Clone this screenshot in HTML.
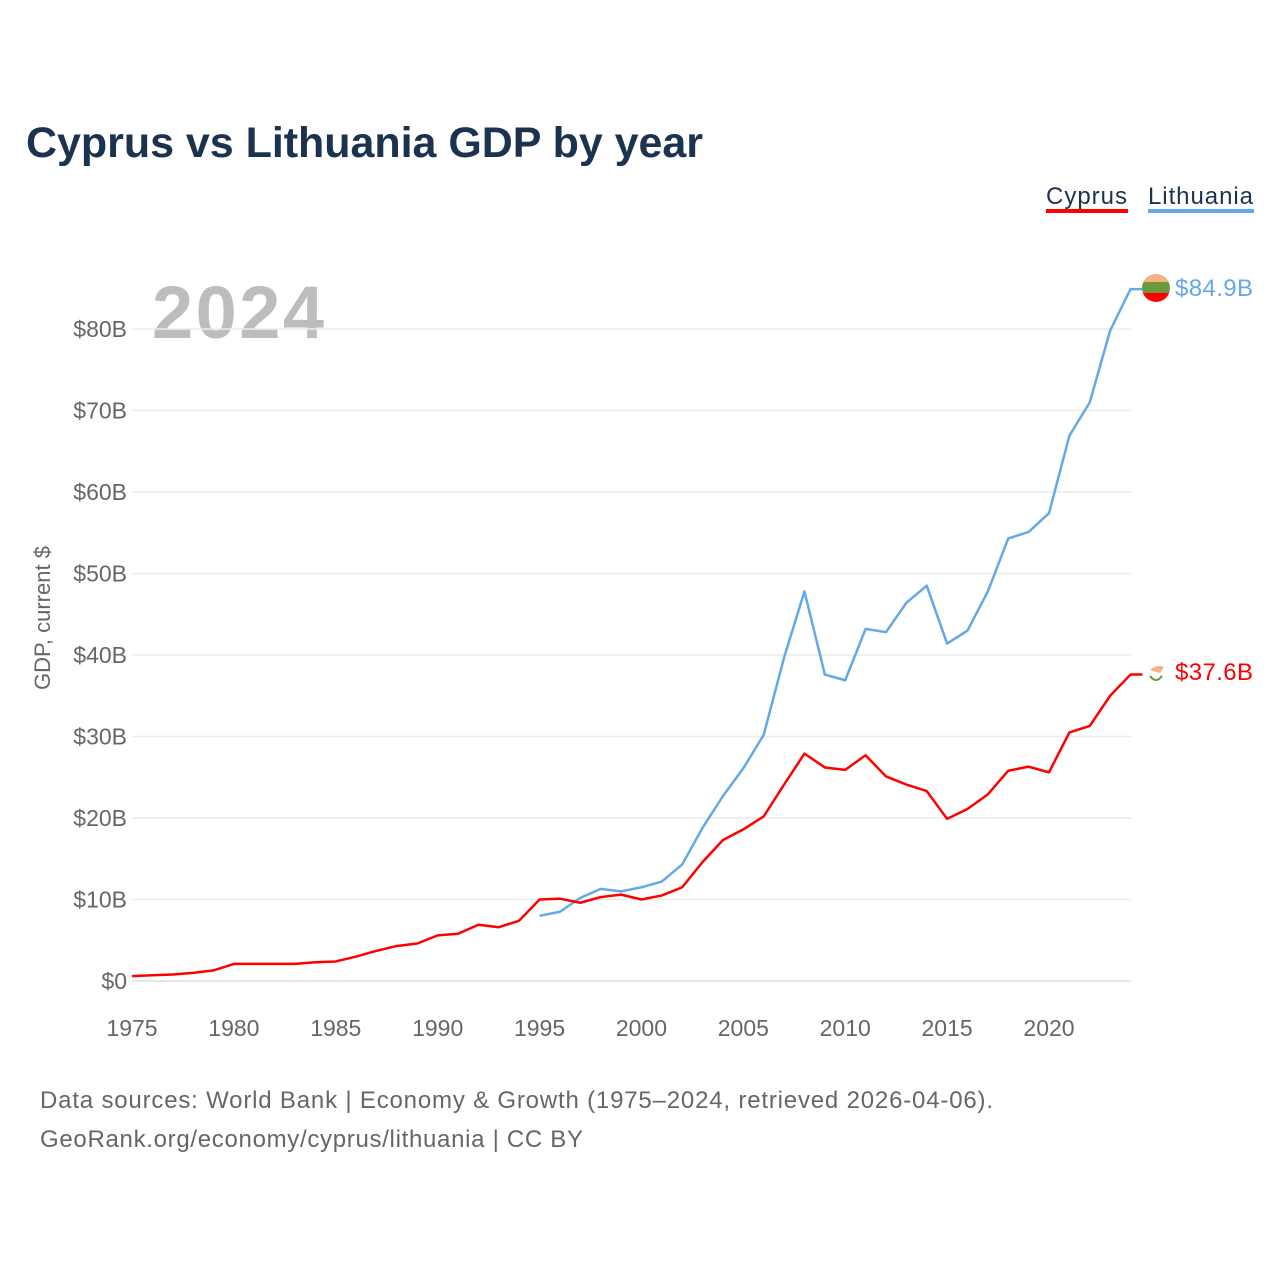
<!DOCTYPE html>
<html><head><meta charset="utf-8"><style>
body{margin:0;background:#fff;font-family:"Liberation Sans",sans-serif}
</style></head><body>
<svg width="1280" height="1280" xmlns="http://www.w3.org/2000/svg" id="chart">
<text x="26" y="157" font-size="43" font-weight="bold" fill="#1c3350" textLength="677">Cyprus vs Lithuania GDP by year</text>
<g>
<g><text x="1046" y="204" font-size="24" fill="#1c3350" textLength="81">Cyprus</text><rect x="1046" y="209" width="82" height="4" fill="#ff0000"/></g>
<g><text x="1148" y="204" font-size="24" fill="#1c3350" textLength="105">Lithuania</text><rect x="1148" y="209" width="106" height="4" fill="#63a8e8"/></g>
</g>
<text x="152" y="338" font-size="74" font-weight="bold" fill="#bdbdbd" textLength="172">2024</text>
<text transform="translate(50,618) rotate(-90)" text-anchor="middle" font-size="22" fill="#666">GDP, current $</text>
<g id="grid"></g><g id="yt"></g><g id="xt"></g><g id="lines"></g>
<g>
<clipPath id="c1"><circle cx="1156" cy="288" r="14"/></clipPath>
<g clip-path="url(#c1)"><rect x="1140" y="272" width="32" height="10" fill="#f4b183"/><rect x="1140" y="282" width="32" height="11" fill="#6a9a3c"/><rect x="1140" y="293" width="32" height="12" fill="#ff0000"/></g>
</g>
<g><path d="M1150 670 q6 -6 14 -3 l-4 6 z" fill="#f4b183"/><path d="M1150 676 q6 8 12 0" stroke="#6a9a3c" stroke-width="2" fill="none"/></g>
<text x="1175" y="296" font-size="24" fill="#63a8e8" textLength="78">$84.9B</text>
<text x="1175" y="680" font-size="24" fill="#ff0000" textLength="78">$37.6B</text>
<text x="40" y="1108" font-size="24" fill="#666" textLength="953">Data sources: World Bank | Economy &amp; Growth (1975–2024, retrieved 2026-04-06).</text>
<text x="40" y="1147" font-size="24" fill="#666" textLength="543">GeoRank.org/economy/cyprus/lithuania | CC BY</text>
</svg>
<script>
const years=[];for(let y=1975;y<=2024;y++)years.push(y);
const cyprus=[0.6,0.7,0.8,1.0,1.3,2.1,2.1,2.1,2.1,2.3,2.4,3.0,3.7,4.3,4.6,5.6,5.8,6.9,6.6,7.4,10.0,10.1,9.6,10.3,10.6,10.0,10.5,11.5,14.6,17.3,18.6,20.2,24.1,27.9,26.2,25.9,27.7,25.1,24.1,23.3,19.9,21.1,22.9,25.8,26.3,25.6,30.5,31.3,35.0,37.6];
const lithYears=[1995,1996,1997,1998,1999,2000,2001,2002,2003,2004,2005,2006,2007,2008,2009,2010,2011,2012,2013,2014,2015,2016,2017,2018,2019,2020,2021,2022,2023,2024];
const lithuania=[8.0,8.5,10.2,11.3,11.0,11.5,12.2,14.3,18.8,22.7,26.1,30.2,39.7,47.8,37.6,36.9,43.2,42.8,46.4,48.5,41.4,43.0,47.8,54.3,55.1,57.4,66.9,71.0,79.8,84.9];
const yTicks=[0,10,20,30,40,50,60,70,80];
const xTicks=[1975,1980,1985,1990,1995,2000,2005,2010,2015,2020];
const NS="http://www.w3.org/2000/svg";
const X=y=>132+(y-1975)*(1049-132)/45;
const Y=v=>981-v*(981-329)/80;
function mk(t,a,p){const e=document.createElementNS(NS,t);for(const k in a)e.setAttribute(k,a[k]);document.getElementById(p).appendChild(e);return e;}
yTicks.forEach(v=>{
 const l=mk('line',{x1:132,x2:1131,y1:Y(v),y2:Y(v),stroke:v===0?'#e6e6e6':'#ebebeb','stroke-width':v===0?2:1.5},'grid');
 
 
 const t=mk('text',{x:127,y:Y(v)+8,'text-anchor':'end','font-size':23,fill:'#666'},'yt');
 t.textContent='$'+v+(v?'B':'');
 
 
});
xTicks.forEach(y=>{
 const t=mk('text',{x:X(y),y:1036,'text-anchor':'middle','font-size':23,fill:'#666'},'xt');
 t.textContent=y;
 
 
});
function line(xs,vs,c,n){
 const p=mk('polyline',{points:xs.map((x,i)=>X(x)+','+Y(vs[i])).join(' ')+' '+(X(2024)+12)+','+Y(vs[vs.length-1]),fill:'none',stroke:c,'stroke-width':2.5,'stroke-linejoin':'round'},'lines');
 
 
}
line(lithYears,lithuania,'#63a8e8','line-lithuania');
line(years,cyprus,'#ff0000','line-cyprus');
</script>
</body></html>
